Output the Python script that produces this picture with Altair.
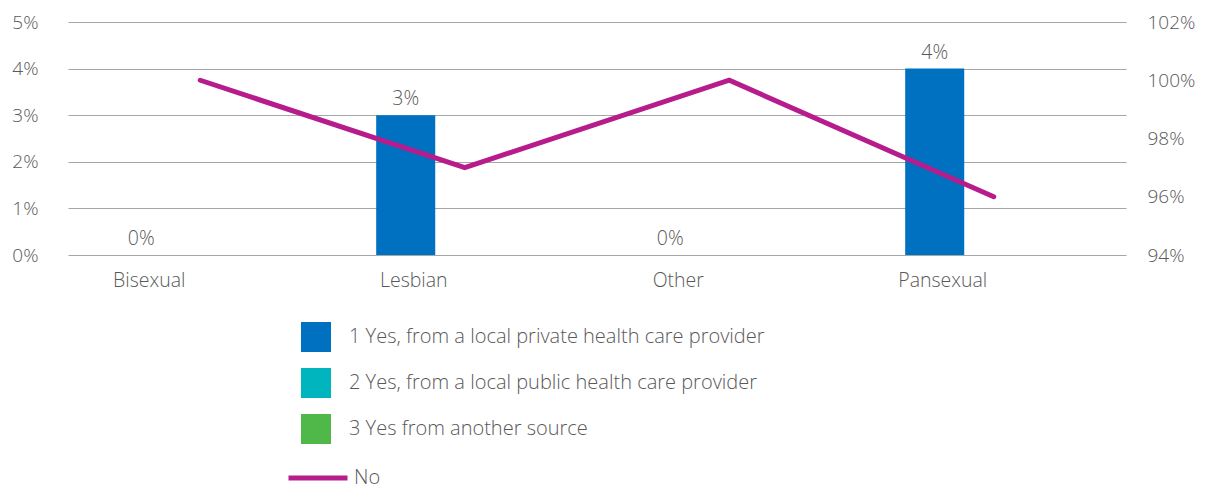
import altair as alt
import pandas as pd

categories = ["Bisexual", "Lesbian", "Other", "Pansexual"]
series_names = [
    "1 Yes, from a local private health care provider",
    "2 Yes, from a local public health care provider",
    "3 Yes from another source",
]
private_values = [0.0, 0.03, 0.0, 0.04]
no_values = [1.00, 0.97, 1.00, 0.96]
left_ticks = [0, 0.01, 0.02, 0.03, 0.04, 0.05]
right_ticks = [0.94, 0.96, 0.98, 1.00, 1.02]

bar_colors = ["#0070C0", "#00B5BE", "#50B848"]
line_color = "#B71C8C"
text_color = "#595959"
FONT = "Open Sans"
FW = 300
FS = 19

bar_df = pd.DataFrame({
    "category": categories,
    "series": [series_names[0]] * len(categories),
    "value": private_values,
})
line_df = pd.DataFrame({"category": categories, "value": no_values, "series": ["No"] * len(categories)})

x_enc = alt.X("category:N", sort=categories,
              scale=alt.Scale(paddingInner=0, paddingOuter=0),
              axis=alt.Axis(title=None, labelAngle=0, domain=False, ticks=False,
                            labelPadding=16, labelOffset=-51, labelFontSize=19.5,
                            labelColor=text_color, labelFont=FONT, labelFontWeight=FW))
xoff = alt.XOffset("series:N", scale=alt.Scale(domain=series_names, paddingInner=0, paddingOuter=0.74))
y_left = alt.Y("value:Q", scale=alt.Scale(domain=[0, 0.05], nice=False),
               axis=alt.Axis(title=None, values=left_ticks, format=".0%", grid=True,
                             gridColor="#A6A6A6", gridWidth=1, domain=False, ticks=False,
                             labelPadding=30, labelFontSize=FS, labelColor=text_color,
                             labelFont=FONT, labelFontWeight=FW, orient="left"))

bars = alt.Chart(bar_df).mark_bar().encode(
    x=x_enc, xOffset=xoff, y=y_left,
    fill=alt.Fill("series:N", scale=alt.Scale(domain=series_names, range=bar_colors),
                  legend=alt.Legend(title=None, orient="none", legendX=233, legendY=300,
                                    symbolType="square", symbolSize=900, symbolStrokeWidth=0,
                                    labelFontSize=20, labelColor=text_color, labelFont=FONT,
                                    labelFontWeight=FW,
                                    labelOffset=18, rowPadding=16, labelLimit=0)),
)
labels = alt.Chart(bar_df).mark_text(baseline="bottom", dy=-6, fontSize=19.5,
                                      color=text_color, font=FONT, fontWeight=FW).encode(
    x=x_enc, xOffset=xoff, y=y_left,
    text=alt.Text("value:Q", format=".0%"),
)
line = alt.Chart(line_df).mark_line(strokeWidth=5, strokeCap="round", strokeJoin="miter").encode(
    x=x_enc,
    y=alt.Y("value:Q", scale=alt.Scale(domain=[0.94, 1.02], nice=False),
            axis=alt.Axis(title=None, values=right_ticks, format=".0%", grid=False,
                          domain=False, ticks=False, labelPadding=21, labelFontSize=FS,
                          labelColor=text_color, labelFont=FONT, labelFontWeight=FW,
                          orient="right")),
    stroke=alt.Stroke("series:N", scale=alt.Scale(domain=["No"], range=[line_color]),
                      legend=alt.Legend(title=None, orient="none", legendX=218, legendY=424,
                                        symbolType="stroke", symbolSize=3481, symbolStrokeWidth=5,
                                        labelFontSize=20, labelColor=text_color, labelFont=FONT,
                                        labelFontWeight=FW,
                                        labelOffset=4, labelLimit=0)),
)

chart = alt.layer(alt.layer(bars, labels), line).resolve_scale(
    y="independent", fill="independent", stroke="independent"
).properties(
    width=1058, height=233,
    autosize=alt.AutoSizeParams(type="none"),
    padding={"left": 60, "top": 14, "right": 72, "bottom": 236},
).configure_view(stroke=None)

chart.save("out.html", embed_options={"renderer": "svg", "actions": False})
